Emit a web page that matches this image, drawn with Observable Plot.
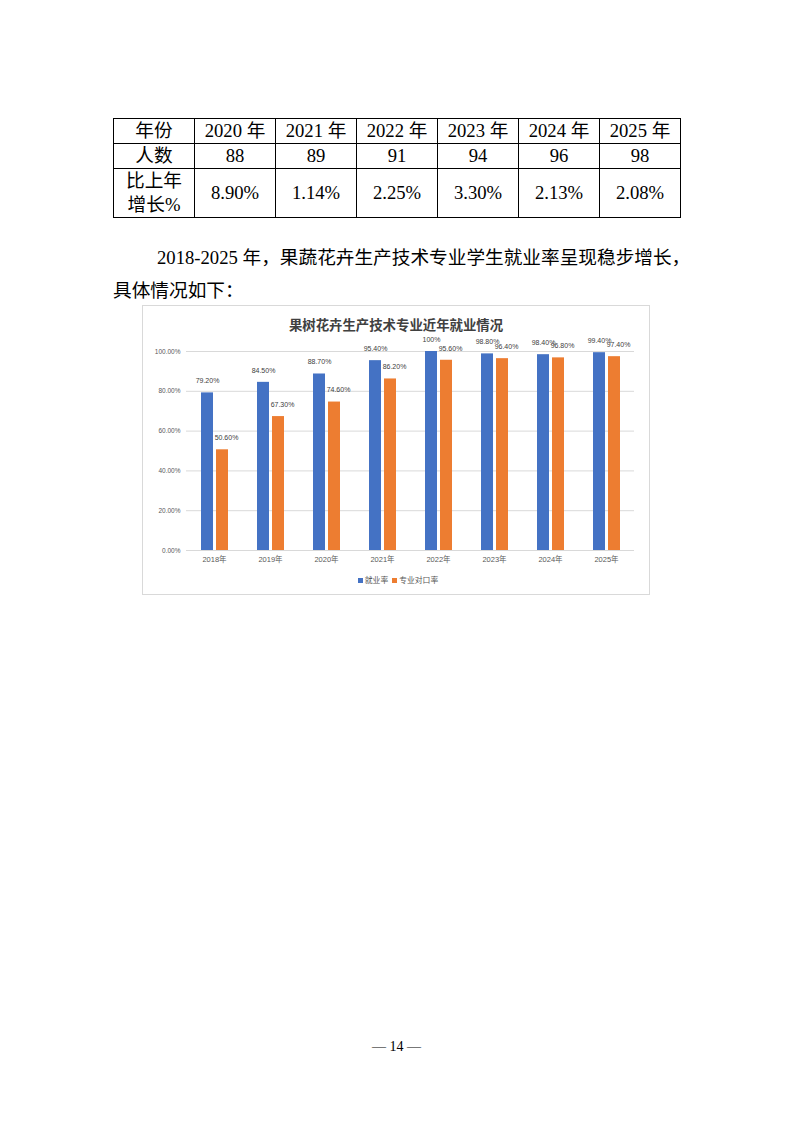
<!DOCTYPE html>
<html>
<head>
<meta charset="utf-8">
<script src="https://cdn.jsdelivr.net/npm/d3@7"></script>
<script src="https://cdn.jsdelivr.net/npm/@observablehq/plot@0.6"></script>
<style>
  html, body { margin: 0; padding: 0; background: #fff; }
  body { width: 793px; height: 1122px; position: relative; overflow: hidden;
         font-family: "Liberation Serif", "Noto Sans CJK SC", serif; color: #000; }
  table.t { position: absolute; left: 113px; top: 118px; border-collapse: collapse; table-layout: fixed; }
  table.t td { border: 1px solid #000; text-align: center; vertical-align: middle; padding: 0;
               font-size: 18.67px; line-height: 24px; width: 80px; }
  .p1 { position: absolute; left: 157px; top: 245px; width: 515px; font-size: 18.67px; line-height: 26px;
        text-align: justify; text-align-last: justify; white-space: nowrap; }
  .p2 { position: absolute; left: 113px; top: 278px; font-size: 18.67px; line-height: 26px; }
  .chart { position: absolute; left: 142px; top: 305px; width: 508px; height: 290px;
           border: 1px solid #d9d9d9; box-sizing: border-box; background: #fff; }
  .title { position: absolute; left: 0; right: 0; top: 9px; text-align: center;
           font-family: "Noto Sans CJK SC", sans-serif; font-weight: bold; font-size: 13.4px; line-height: 18px; color: #404040; }
  #plot { position: absolute; left: -1px; top: 24px; }
  .legend { position: absolute; left: 0; right: 0; top: 268px; text-align: center;
            font-family: "Noto Sans CJK SC", sans-serif; font-size: 7.8px; line-height: 12px; color: #595959; }
  .legend span.sw { display: inline-block; width: 5px; height: 5px; margin: 0 2px 0 4px; vertical-align: 0px; }
  .pn { position: absolute; left: 0; width: 793px; top: 1038px; text-align: center; font-size: 14px; line-height: 18px; }
</style>
</head>
<body>
<div id="tbl"></div>
<div class="p1">2018-2025 年，果蔬花卉生产技术专业学生就业率呈现稳步增长，</div>
<div class="p2">具体情况如下：</div>
<div class="chart">
  <div class="title">果树花卉生产技术专业近年就业情况</div>
  <div id="plot"></div>
  <div class="legend" id="legend"></div>
</div>
<div class="pn">— 14 —</div>
<script>
// ---- table data ----
const tableYears = ["2020 年", "2021 年", "2022 年", "2023 年", "2024 年", "2025 年"];
const tablePeople = ["88", "89", "91", "94", "96", "98"];
const tableGrowth = ["8.90%", "1.14%", "2.25%", "3.30%", "2.13%", "2.08%"];
const tableRowHeads = ["年份", "人数", "比上年<br>增长%"];

// ---- chart data ----
const chartYears = ["2018年", "2019年", "2020年", "2021年", "2022年", "2023年", "2024年", "2025年"];
const seriesNames = ["就业率", "专业对口率"];
const employRate = [0.792, 0.845, 0.887, 0.954, 1.0, 0.988, 0.984, 0.994];
const employLabels = ["79.20%", "84.50%", "88.70%", "95.40%", "100%", "98.80%", "98.40%", "99.40%"];
const matchRate = [0.506, 0.673, 0.746, 0.862, 0.956, 0.964, 0.968, 0.974];
const matchLabels = ["50.60%", "67.30%", "74.60%", "86.20%", "95.60%", "96.40%", "96.80%", "97.40%"];
const yTicks = [0, 0.2, 0.4, 0.6, 0.8, 1.0];
const seriesColors = ["#4472C4", "#ED7D31"];

// build table
const rowsHtml = [
  [tableRowHeads[0], ...tableYears],
  [tableRowHeads[1], ...tablePeople],
  [tableRowHeads[2], ...tableGrowth]
];
const rowHeights = [24.5, 24.7, 49.3];
let html = '<table class="t">';
rowsHtml.forEach((r, i) => {
  html += `<tr style="height:${rowHeights[i]}px">` + r.map(c => `<td>${c}</td>`).join("") + "</tr>";
});
html += "</table>";
document.getElementById("tbl").innerHTML = html;

// build chart rows
const rows = [];
chartYears.forEach((yr, i) => {
  rows.push({year: yr, series: seriesNames[0], value: employRate[i], label: employLabels[i]});
  rows.push({year: yr, series: seriesNames[1], value: matchRate[i], label: matchLabels[i]});
});
const employRows = rows.filter(d => d.series === seriesNames[0]);
const matchRows = rows.filter(d => d.series === seriesNames[1]);

const chart = Plot.plot({
  width: 500,
  height: 240,
  marginLeft: 43,
  marginRight: 7,
  marginTop: 21,
  marginBottom: 20,
  style: {fontFamily: "'Liberation Sans','Noto Sans CJK SC',sans-serif", background: "transparent", overflow: "visible"},
  fx: {domain: chartYears, padding: 0, axis: null},
  x: {domain: seriesNames, paddingInner: 0.2, paddingOuter: 0.9, axis: null},
  y: {domain: [0, 1], axis: null},
  color: {domain: seriesNames, range: seriesColors},
  marks: [
    Plot.gridY(yTicks, {stroke: "#d9d9d9", strokeOpacity: 1, strokeWidth: 1}),
    Plot.axisY(yTicks, {tickFormat: d3.format(".2%"), tickSize: 0, tickPadding: 6, fontSize: 6.5, fill: "#595959", label: null}),
    Plot.barY(rows, {fx: "year", x: "series", y: "value", fill: "series"}),
    Plot.text(employRows, {fx: "year", x: "series", y: "value", text: "label", dy: -12, fontSize: 7, fill: "#404040"}),
    Plot.text(matchRows, {fx: "year", x: "series", y: "value", text: "label", dy: -12, dx: 4, fontSize: 7, fill: "#404040"}),
    Plot.axisFx({domain: chartYears, anchor: "bottom", tickSize: 0, tickPadding: 6, fontSize: 7.5, fill: "#595959", label: null})
  ]
});
document.getElementById("plot").appendChild(chart);

// legend
document.getElementById("legend").innerHTML = seriesNames.map((s, i) =>
  `<span class="sw" style="background:${seriesColors[i]}"></span>${s}`).join("");
</script>
</body>
</html>
